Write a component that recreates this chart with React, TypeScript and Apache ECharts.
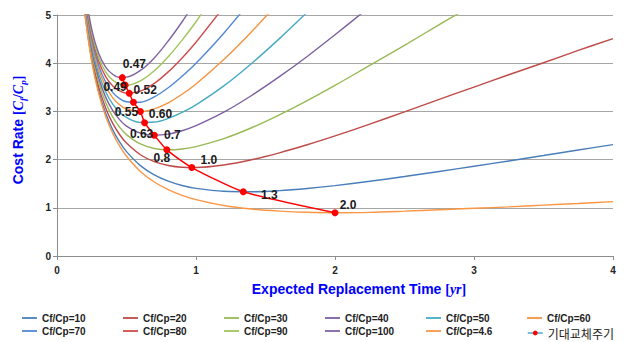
import React, { useEffect, useRef } from "react";
import * as echarts from "echarts";

// replacement times (yr) at which the curves were read
const T = [0.18, 0.2, 0.25, 0.3, 0.35, 0.4, 0.45, 0.5, 0.6, 0.7, 0.8, 0.9, 1.0, 1.2, 1.4, 1.6, 1.8, 2.0, 2.25, 2.5, 2.75, 3.0, 3.25, 3.5, 3.75, 4.0];

const cr10 = [5.599, 5.05, 4.067, 3.418, 2.961, 2.623, 2.366, 2.165, 1.875, 1.683, 1.553, 1.463, 1.403, 1.342, 1.333, 1.356, 1.401, 1.461, 1.55, 1.649, 1.754, 1.862, 1.972, 2.085, 2.2, 2.31];
const cr20 = [5.647, 5.104, 4.139, 3.51, 3.073, 2.756, 2.521, 2.342, 2.1, 1.957, 1.878, 1.842, 1.837, 1.889, 1.997, 2.141, 2.308, 2.492, 2.737, 2.99, 3.25, 3.505, 3.76, 4.01, 4.265, 4.51];
const cr30 = [5.694, 5.158, 4.211, 3.601, 3.184, 2.889, 2.675, 2.519, 2.324, 2.231, 2.203, 2.221, 2.27, 2.436, 2.661, 2.93, 3.225, 3.54, 3.955, 4.37, 4.8, 5.22];
const cr40 = [5.741, 5.212, 4.283, 3.692, 3.296, 3.021, 2.83, 2.696, 2.549, 2.505, 2.529, 2.599, 2.703, 2.983, 3.33, 3.72, 4.14, 4.59, 5.17];
const cr50 = [5.788, 5.266, 4.356, 3.784, 3.407, 3.154, 2.984, 2.874, 2.773, 2.779, 2.854, 2.978, 3.136, 3.529, 3.995, 4.51, 5.06];
const cr60 = [5.835, 5.32, 4.428, 3.875, 3.519, 3.287, 3.139, 3.051, 2.998, 3.053, 3.179, 3.356, 3.57, 4.076, 4.654, 5.28];
const cr70 = [5.882, 5.374, 4.5, 3.95, 3.61, 3.395, 3.265, 3.2, 3.19, 3.3, 3.49, 3.73, 4.0, 4.623, 5.319];
const cr80 = [5.929, 5.428, 4.565, 4.04, 3.72, 3.53, 3.425, 3.38, 3.42, 3.58, 3.82, 4.11, 4.436, 5.17];
const cr90 = [5.976, 5.481, 4.63, 4.12, 3.82, 3.65, 3.565, 3.545, 3.635, 3.845, 4.135, 4.48, 4.86, 5.717];
const cr100 = [6.023, 5.535, 4.7, 4.2, 3.92, 3.77, 3.705, 3.71, 3.85, 4.11, 4.46, 4.86, 5.3];
const cr4_6 = [5.574, 5.021, 4.028, 3.369, 2.901, 2.552, 2.283, 2.069, 1.754, 1.535, 1.377, 1.259, 1.169, 1.047, 0.974, 0.932, 0.908, 0.898, 0.905, 0.93, 0.96, 0.99, 1.02, 1.055, 1.09, 1.128];

const curveNames = ["Cf/Cp=10", "Cf/Cp=20", "Cf/Cp=30", "Cf/Cp=40", "Cf/Cp=50", "Cf/Cp=60", "Cf/Cp=70", "Cf/Cp=80", "Cf/Cp=90", "Cf/Cp=100", "Cf/Cp=4.6"];
const curveValues = [cr10, cr20, cr30, cr40, cr50, cr60, cr70, cr80, cr90, cr100, cr4_6];

// expected replacement period (minimum of each curve)
const optName = "기대교체주기";
const optT = [0.47, 0.49, 0.52, 0.55, 0.6, 0.63, 0.7, 0.79, 0.97, 1.34, 2.0];
const optC = [3.7, 3.545, 3.378, 3.19, 2.998, 2.766, 2.505, 2.203, 1.835, 1.333, 0.898];
const optLabels = ["0.47", "0.49", "0.52", "0.55", "0.60", "0.63", "0.7", "0.8", "1.0", "1.3", "2.0"];

// styling
const curveColors = ["#4a7ebb", "#be4b48", "#98b954", "#7d60a0", "#46aac5", "#f69240", "#5288d2", "#d14b4b", "#a0c45a", "#8064a2", "#fb9645"];
const labelOffsets = [[12, -14], [-10, 2], [16, -3], [-7, 10], [20, 3], [-3, 11], [18, 0], [-5, 8], [17, -8], [26, 3], [13, -8]];
const legendCols = [22, 123, 224, 325, 426, 527];

const SANS = "'Liberation Sans', Arial, sans-serif";
const SERIF = "'Liberation Serif', 'Times New Roman', serif";
const BLUE = "#0000ff";
const LINE_ICON = "path://M0,0L20,0L20,2.4L0,2.4Z";

export default function App() {
  const ref = useRef<HTMLDivElement>(null);
  useEffect(() => {
    if (!ref.current) return;
    const chart = echarts.init(ref.current, undefined, { renderer: "svg" });

    const series: any[] = curveValues.map((ys, k) => ({
      type: "line",
      name: curveNames[k],
      data: ys.map((y, i) => [T[i], y]),
      smooth: 0.35,
      symbol: "none",
      clip: true,
      lineStyle: { color: curveColors[k], width: 1.4 },
      itemStyle: { color: curveColors[k] },
      z: 2,
    }));
    series.push({
      type: "line",
      name: optName,
      data: optT.map((t, i) => ({
        value: [t, optC[i]],
        label: { offset: labelOffsets[i] },
      })),
      smooth: 0.2,
      symbol: "circle",
      symbolSize: 7,
      lineStyle: { color: "#ff0000", width: 1.5 },
      itemStyle: { color: "#ff0000" },
      label: {
        show: true,
        position: "inside",
        formatter: (p: any) => optLabels[p.dataIndex],
        fontFamily: SANS,
        fontWeight: "bold",
        fontSize: 12,
        color: "#1a1a1a",
      },
      z: 5,
    });

    const allNames = [...curveNames, optName];
    const baseLegend = {
      orient: "vertical",
      height: 80,
      padding: 0,
      itemWidth: 15,
      itemHeight: 10,
      itemGap: 3,
      selectedMode: false,
      textStyle: { fontFamily: SANS, fontWeight: "bold", fontSize: 10, color: "#222" },
    };
    const legends: any[] = legendCols.map((x, c) => ({
      ...baseLegend,
      left: x,
      top: 313,
      data: (c < 5 ? [allNames[c], allNames[c + 6]] : [allNames[c]]).map((n) => ({ name: n, icon: LINE_ICON })),
    }));
    legends.push({
      ...baseLegend,
      left: 527,
      top: 327,
      itemHeight: 6,
      data: [
        {
          name: optName,
          lineStyle: { color: "#4bacc6", width: 1.5 },
          itemStyle: { color: "#ff0000" },
          textStyle: { fontFamily: "'Noto Sans CJK KR', sans-serif", fontWeight: "normal", fontSize: 12, color: "#222" },
        },
      ],
    });

    const option: any = {
      animation: false,
      grid: { left: 57, right: 12, top: 15, bottom: 86, containLabel: false },
      xAxis: {
        type: "value",
        min: 0,
        max: 4,
        interval: 1,
        axisLine: { show: true, lineStyle: { color: "#8c8c8c" } },
        axisTick: { show: true, length: 4, lineStyle: { color: "#8c8c8c" } },
        axisLabel: { color: "#222", fontFamily: SANS, fontWeight: "bold", fontSize: 10, margin: 9 },
        splitLine: { show: false },
      },
      yAxis: {
        type: "value",
        min: 0,
        max: 5,
        interval: 1,
        axisLine: { show: true, lineStyle: { color: "#8c8c8c" } },
        axisTick: { show: true, length: 4, lineStyle: { color: "#8c8c8c" } },
        axisLabel: { color: "#222", fontFamily: SANS, fontWeight: "bold", fontSize: 10, margin: 6 },
        splitLine: { show: true, lineStyle: { color: "#a6a6a6", width: 1 } },
      },
      legend: legends,
      series,
      graphic: [
        {
          type: "text",
          x: 18,
          y: 130,
          rotation: Math.PI / 2,
          style: {
            text: "{a|Cost Rate }{b|[}{i|C}{s|f}{b|/}{i|C}{s|p}{b|]}",
            align: "center",
            verticalAlign: "middle",
            rich: {
              a: { fontFamily: SANS, fontWeight: "bold", fontSize: 14, fill: BLUE, lineHeight: 18 },
              b: { fontFamily: SERIF, fontWeight: "bold", fontSize: 14, fill: BLUE, lineHeight: 18 },
              i: { fontFamily: SERIF, fontStyle: "italic", fontWeight: "bold", fontSize: 14, fill: BLUE, lineHeight: 18 },
              s: { fontFamily: SERIF, fontStyle: "italic", fontWeight: "bold", fontSize: 9, fill: BLUE, lineHeight: 18, verticalAlign: "bottom" },
            },
          },
        },
        {
          type: "text",
          x: 359,
          y: 289,
          style: {
            text: "{a|Expected Replacement Time }{b|[}{i|yr}{b|]}",
            align: "center",
            verticalAlign: "middle",
            rich: {
              a: { fontFamily: SANS, fontWeight: "bold", fontSize: 14, fill: BLUE },
              b: { fontFamily: SERIF, fontWeight: "bold", fontSize: 14, fill: BLUE },
              i: { fontFamily: SERIF, fontStyle: "italic", fontWeight: "bold", fontSize: 14, fill: BLUE },
            },
          },
        },
      ],
    };
    chart.setOption(option);
    return () => chart.dispose();
  }, []);
  return (
    <div
      ref={ref}
      style={{ position: "fixed", left: 0, top: 0, width: 625, height: 342, background: "#fff" }}
    />
  );
}
